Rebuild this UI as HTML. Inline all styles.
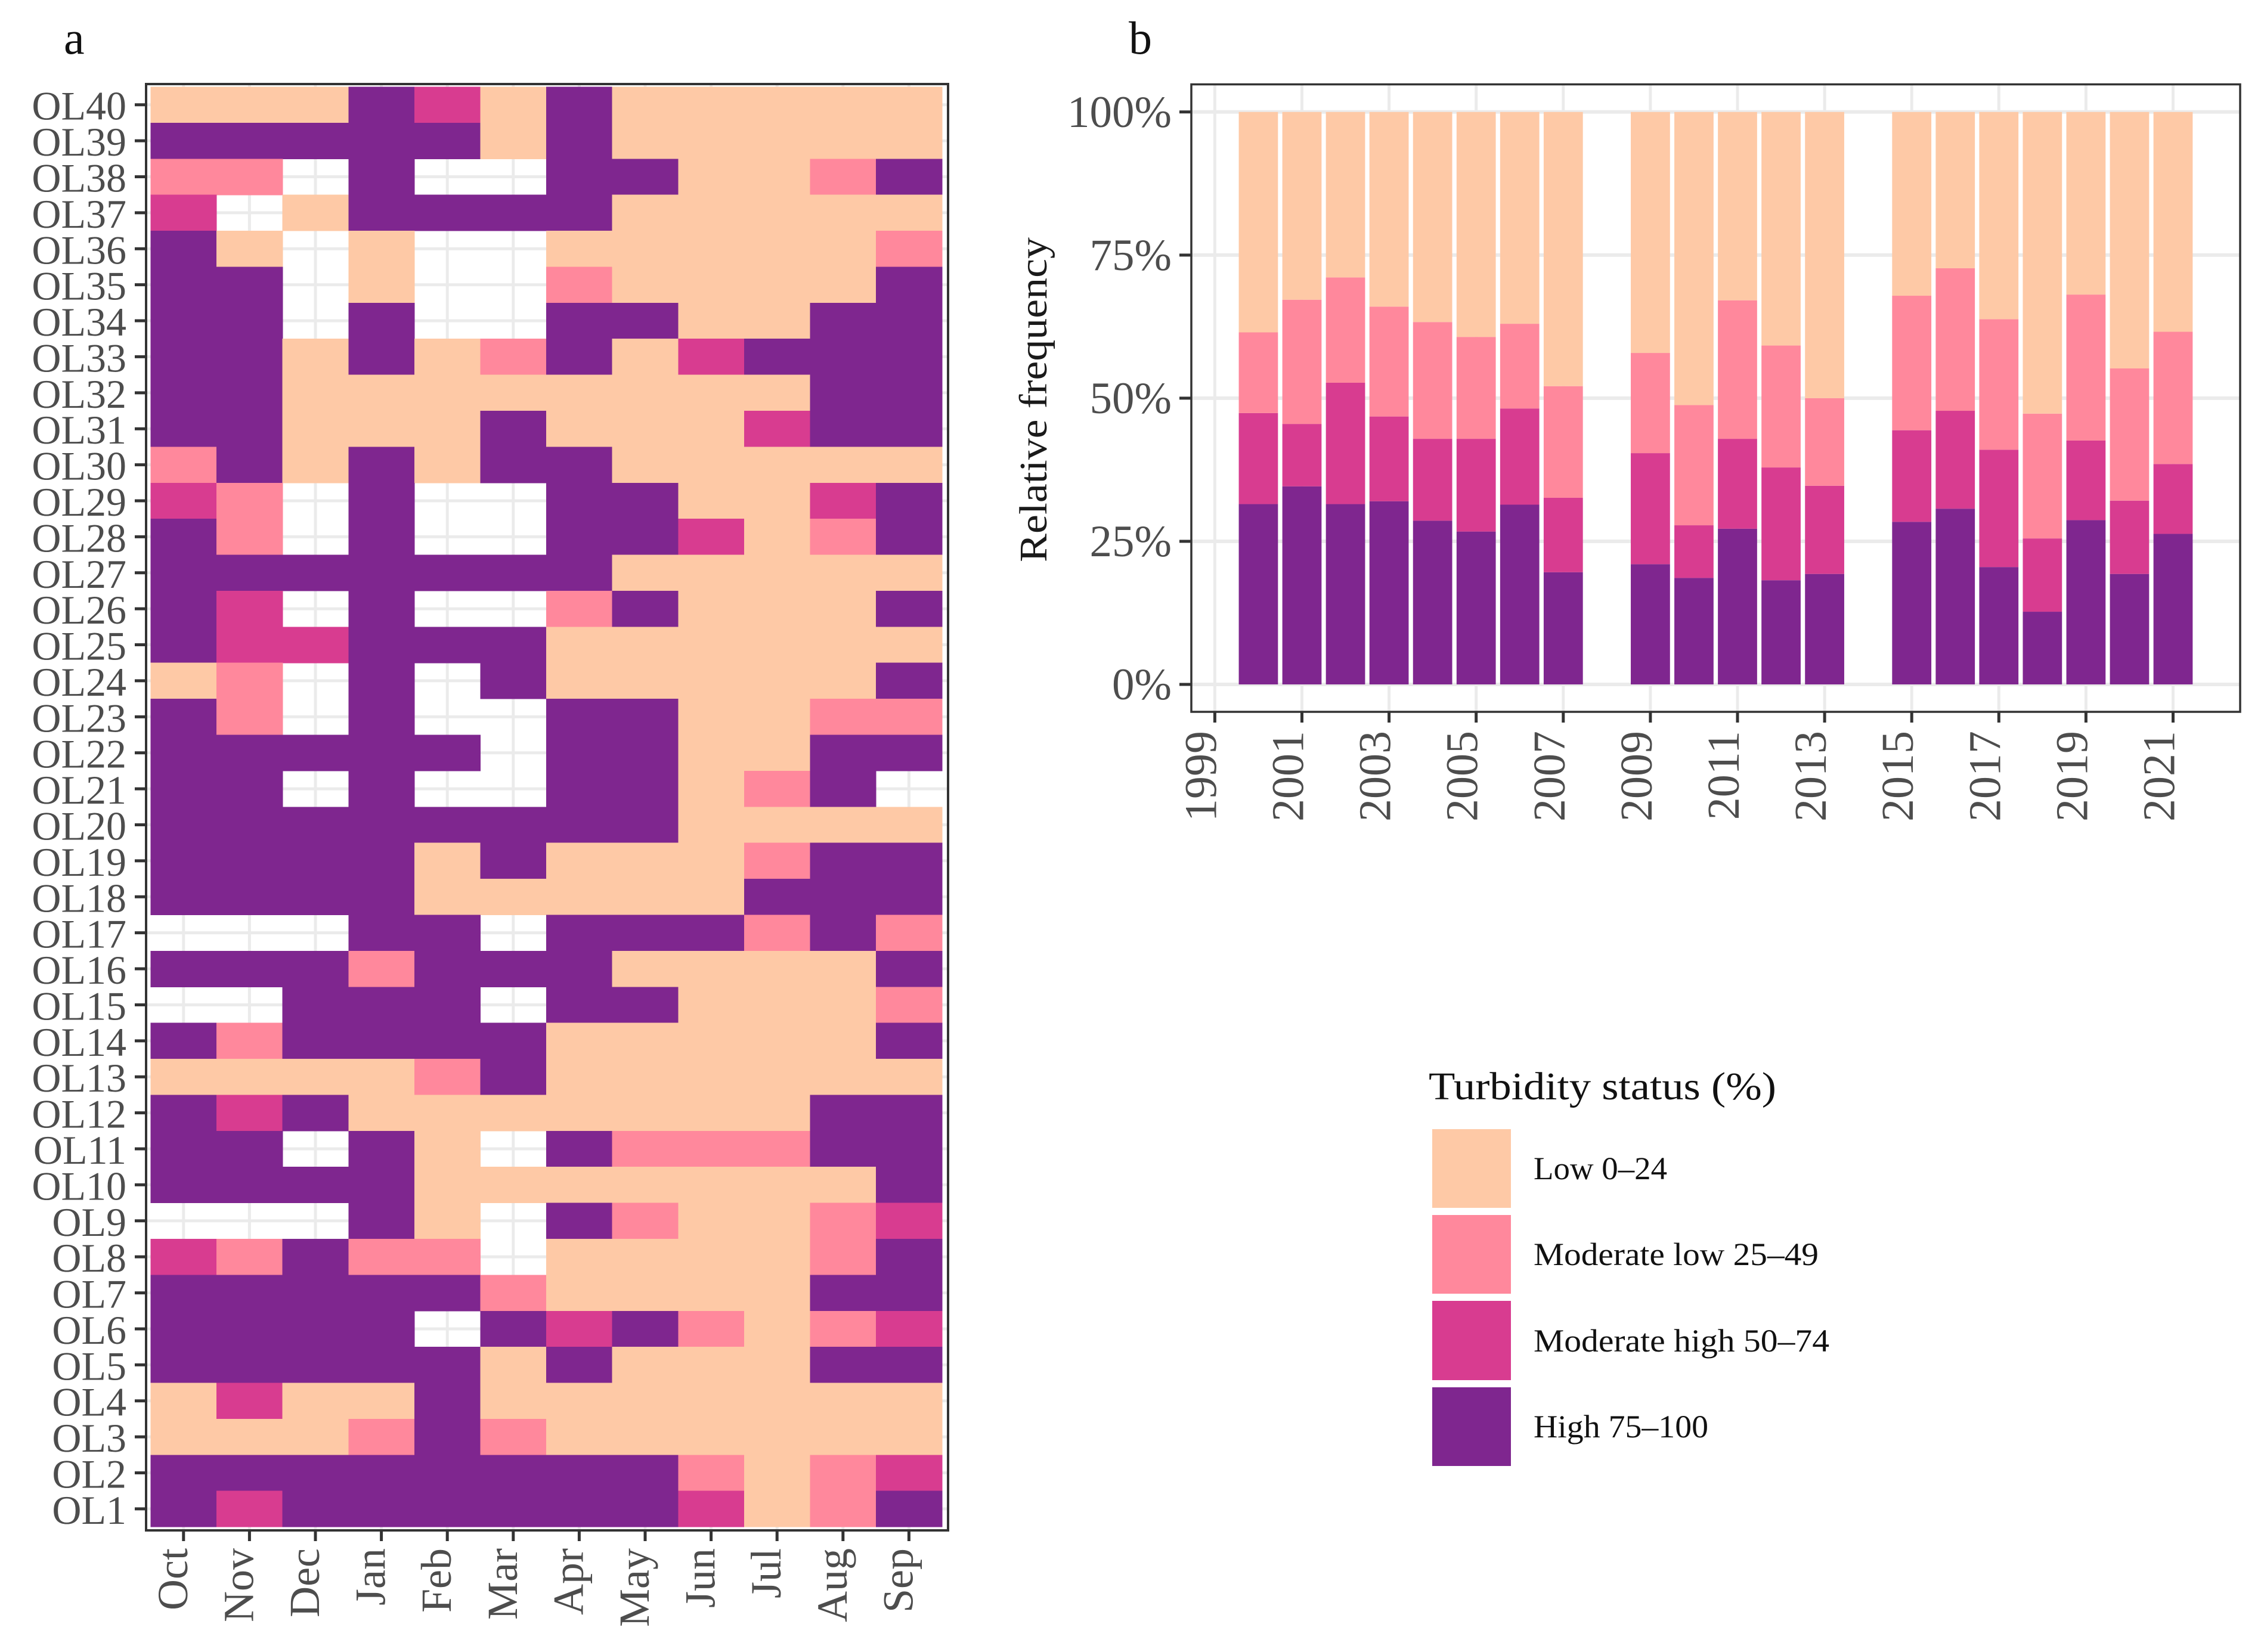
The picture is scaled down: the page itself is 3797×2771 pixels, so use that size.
<!DOCTYPE html>
<html lang="en">
<head>
<meta charset="utf-8">
<title>Turbidity status heatmap and relative frequency</title>
<style>
html,body{margin:0;padding:0;background:#fff;}
svg{display:block;}
text{font-family:"Liberation Serif",serif;}
</style>
</head>
<body>
<svg id="figure" xmlns="http://www.w3.org/2000/svg" width="3797" height="2771" viewBox="0 0 3797 2771">
  <rect x="0" y="0" width="3797" height="2771" fill="#ffffff"/>
  <text x="107" y="90" font-size="78" fill="#111">a</text>
  <text x="1893" y="90" font-size="78" fill="#111">b</text>
  <g id="panelA"></g>
  <g id="panelB"></g>
  <text transform="translate(1755,943) rotate(-90)" font-size="66" fill="#1a1a1a" textLength="545" lengthAdjust="spacingAndGlyphs">Relative frequency</text>
  <g>
    <text x="2396" y="1844" font-size="66" fill="#111" textLength="583" lengthAdjust="spacingAndGlyphs">Turbidity status (%)</text>
    <g>
      <rect x="2402" y="1894" width="132" height="132" fill="#FEC9A6"/>
      <text x="2572" y="1978" font-size="54" fill="#111" textLength="224" lengthAdjust="spacingAndGlyphs">Low 0–24</text>
    </g>
    <g>
      <rect x="2402" y="2038" width="132" height="132" fill="#FF889C"/>
      <text x="2572" y="2122" font-size="54" fill="#111" textLength="478" lengthAdjust="spacingAndGlyphs">Moderate low 25–49</text>
    </g>
    <g>
      <rect x="2402" y="2182" width="132" height="133" fill="#D83C90"/>
      <text x="2572" y="2267" font-size="54" fill="#111" textLength="496" lengthAdjust="spacingAndGlyphs">Moderate high 50–74</text>
    </g>
    <g>
      <rect x="2402" y="2327" width="132" height="132" fill="#7F268F"/>
      <text x="2572" y="2411" font-size="54" fill="#111" textLength="293" lengthAdjust="spacingAndGlyphs">High 75–100</text>
    </g>
  </g>
</svg>
<script>
// ---------- Heatmap data (0 low, 1 moderate low, 2 moderate high, 3 high, _ missing) ----------
const _ = null;
const months = ['Oct','Nov','Dec','Jan','Feb','Mar','Apr','May','Jun','Jul','Aug','Sep'];
const OL40 = [0,0,0,3,2,0,3,0,0,0,0,0];
const OL39 = [3,3,3,3,3,0,3,0,0,0,0,0];
const OL38 = [1,1,_,3,_,_,3,3,0,0,1,3];
const OL37 = [2,_,0,3,3,3,3,0,0,0,0,0];
const OL36 = [3,0,_,0,_,_,0,0,0,0,0,1];
const OL35 = [3,3,_,0,_,_,1,0,0,0,0,3];
const OL34 = [3,3,_,3,_,_,3,3,0,0,3,3];
const OL33 = [3,3,0,3,0,1,3,0,2,3,3,3];
const OL32 = [3,3,0,0,0,0,0,0,0,0,3,3];
const OL31 = [3,3,0,0,0,3,0,0,0,2,3,3];
const OL30 = [1,3,0,3,0,3,3,0,0,0,0,0];
const OL29 = [2,1,_,3,_,_,3,3,0,0,2,3];
const OL28 = [3,1,_,3,_,_,3,3,2,0,1,3];
const OL27 = [3,3,3,3,3,3,3,0,0,0,0,0];
const OL26 = [3,2,_,3,_,_,1,3,0,0,0,3];
const OL25 = [3,2,2,3,3,3,0,0,0,0,0,0];
const OL24 = [0,1,_,3,_,3,0,0,0,0,0,3];
const OL23 = [3,1,_,3,_,_,3,3,0,0,1,1];
const OL22 = [3,3,3,3,3,_,3,3,0,0,3,3];
const OL21 = [3,3,_,3,_,_,3,3,0,1,3,_];
const OL20 = [3,3,3,3,3,3,3,3,0,0,0,0];
const OL19 = [3,3,3,3,0,3,0,0,0,1,3,3];
const OL18 = [3,3,3,3,0,0,0,0,0,3,3,3];
const OL17 = [_,_,_,3,3,_,3,3,3,1,3,1];
const OL16 = [3,3,3,1,3,3,3,0,0,0,0,3];
const OL15 = [_,_,3,3,3,_,3,3,0,0,0,1];
const OL14 = [3,1,3,3,3,3,0,0,0,0,0,3];
const OL13 = [0,0,0,0,1,3,0,0,0,0,0,0];
const OL12 = [3,2,3,0,0,0,0,0,0,0,3,3];
const OL11 = [3,3,_,3,0,_,3,1,1,1,3,3];
const OL10 = [3,3,3,3,0,0,0,0,0,0,0,3];
const OL9  = [_,_,_,3,0,_,3,1,0,0,1,2];
const OL8  = [2,1,3,1,1,_,0,0,0,0,1,3];
const OL7  = [3,3,3,3,3,1,0,0,0,0,3,3];
const OL6  = [3,3,3,3,_,3,2,3,1,0,1,2];
const OL5  = [3,3,3,3,3,0,3,0,0,0,3,3];
const OL4  = [0,2,0,0,3,0,0,0,0,0,0,0];
const OL3  = [0,0,0,1,3,1,0,0,0,0,0,0];
const OL2  = [3,3,3,3,3,3,3,3,1,0,1,2];
const OL1  = [3,2,3,3,3,3,3,3,2,0,1,3];
const siteLabels = ['OL40','OL39','OL38','OL37','OL36','OL35','OL34','OL33','OL32','OL31','OL30','OL29','OL28','OL27','OL26','OL25','OL24','OL23','OL22','OL21','OL20','OL19','OL18','OL17','OL16','OL15','OL14','OL13','OL12','OL11','OL10','OL9','OL8','OL7','OL6','OL5','OL4','OL3','OL2','OL1'];
const siteRows = [OL40,OL39,OL38,OL37,OL36,OL35,OL34,OL33,OL32,OL31,OL30,OL29,OL28,OL27,OL26,OL25,OL24,OL23,OL22,OL21,OL20,OL19,OL18,OL17,OL16,OL15,OL14,OL13,OL12,OL11,OL10,OL9,OL8,OL7,OL6,OL5,OL4,OL3,OL2,OL1];

// ---------- Bar chart data (percent in each status, per year) ----------
const years        = [2000,2001,2002,2003,2004,2005,2006,2007,2009,2010,2011,2012,2013,2015,2016,2017,2018,2019,2020,2021];
const highPct      = [31.5,34.6,31.5,32.0,28.6,26.7,31.4,19.6,21.0,18.6,27.2,18.2,19.3,28.4,30.7,20.5,12.7,28.7,19.3,26.3];
const modHighPct   = [15.9,10.9,21.2,14.8,14.3,16.2,16.8,13.0,19.4,9.2,15.7,19.7,15.4,16.0,17.1,20.5,12.8,13.9,12.8,12.2];
const modLowPct    = [14.1,21.7,18.4,19.2,20.4,17.8,14.8,19.5,17.5,21.0,24.2,21.3,15.3,23.5,24.9,22.8,21.8,25.5,23.1,23.1];
const lowPct       = [38.5,32.8,28.9,34.0,36.7,39.3,37.0,47.9,42.1,51.2,32.9,40.8,50.0,32.1,27.3,36.2,52.7,31.9,44.8,38.4];
const yearTicks    = [1999,2001,2003,2005,2007,2009,2011,2013,2015,2017,2019,2021];
const percentTicks = [0,25,50,75,100];

const statusColors = ['#FEC9A6','#FF889C','#D83C90','#7F268F'];
const NS = 'http://www.w3.org/2000/svg';
function make(tag, attrs, parent) {
  const el = document.createElementNS(NS, tag);
  for (const k in attrs) el.setAttribute(k, attrs[k]);
  parent.appendChild(el);
  return el;
}
const GRID = '#ebebeb', AXIS = '#333333', LABEL = '#4d4d4d';

// ---------- Panel A ----------
(function () {
  const root = document.getElementById('panelA');
  const box = {l: 245, r: 1590, t: 141, b: 2567};
  const cx0 = 252.5, cw = 110.6, cy0 = 145.5, ch = 60.39;
  const xBand = i => cx0 + i * cw;
  const yBand = i => cy0 + i * ch;

  months.forEach((m, i) => {
    const x = xBand(i) + cw / 2;
    const el = make('line', {x1: x, x2: x, y1: box.t, y2: box.b, stroke: GRID, 'stroke-width': 5}, root);
    
    
  });
  siteLabels.forEach((s, j) => {
    const y = yBand(j) + ch / 2;
    const el = make('line', {x1: box.l, x2: box.r, y1: y, y2: y, stroke: GRID, 'stroke-width': 5}, root);
    
    
  });

  siteRows.forEach((row, j) => {
    row.forEach((v, i) => {
      if (v === null) return;
      const el = make('rect', {x: xBand(i), y: yBand(j), width: cw + 0.6, height: ch + 0.6, fill: statusColors[v], 'shape-rendering': 'crispEdges'}, root);
      
      
    });
  });

  const frame = make('rect', {x: box.l, y: box.t, width: box.r - box.l, height: box.b - box.t, fill: 'none', stroke: AXIS, 'stroke-width': 4}, root);
  
  

  siteLabels.forEach((s, j) => {
    const y = yBand(j) + ch / 2;
    const tick = make('line', {x1: 226, x2: box.l, y1: y, y2: y, stroke: AXIS, 'stroke-width': 5}, root);
    
    
    const t = make('text', {x: 212, y: y + 25, 'text-anchor': 'end', 'font-size': 68, fill: LABEL}, root);
    t.textContent = s;
    
    
  });

  months.forEach((m, i) => {
    const x = xBand(i) + cw / 2;
    const tick = make('line', {x1: x, x2: x, y1: box.b, y2: box.b + 18, stroke: AXIS, 'stroke-width': 5}, root);
    
    
    const t = make('text', {transform: 'translate(' + (x + 6) + ',2597) rotate(-90)', 'text-anchor': 'end', 'font-size': 72, fill: LABEL}, root);
    t.textContent = m;
    
    
  });
})();

// ---------- Panel B ----------
(function () {
  const root = document.getElementById('panelB');
  const box = {l: 1998, r: 3757, t: 141.5, b: 1194};
  const xYear = y => 2037.4 + (y - 1999) * 73.05;
  const yPct = p => 1148 - p * 9.602;
  const barW = 0.9 * 73.05;

  const minor = make('g', {}, root);
  
  
  yearTicks.forEach(v => {
    const el = make('line', {x1: xYear(v), x2: xYear(v), y1: box.t, y2: box.b, stroke: GRID, 'stroke-width': 5}, minor);
    
    
  });
  percentTicks.forEach(v => {
    const el = make('line', {x1: box.l, x2: box.r, y1: yPct(v), y2: yPct(v), stroke: GRID, 'stroke-width': 6}, minor);
    
    
  });

  years.forEach((yr, i) => {
    const parts = [highPct[i], modHighPct[i], modLowPct[i], lowPct[i]];
    const fills = [3, 2, 1, 0];
    const names = ['high', 'moderate-high', 'moderate-low', 'low'];
    let acc = 0;
    parts.forEach((p, k) => {
      const y1 = yPct(acc + p), y0 = yPct(acc);
      const el = make('rect', {x: xYear(yr) - barW / 2, y: y1, width: barW, height: y0 - y1, fill: statusColors[fills[k]]}, root);
      
      
      acc += p;
    });
  });

  const frame = make('rect', {x: box.l, y: box.t, width: box.r - box.l, height: box.b - box.t, fill: 'none', stroke: AXIS, 'stroke-width': 3.5}, root);
  
  

  percentTicks.forEach(v => {
    const tick = make('line', {x1: 1978, x2: box.l, y1: yPct(v), y2: yPct(v), stroke: AXIS, 'stroke-width': 5}, root);
    
    
    const t = make('text', {x: 1965, y: yPct(v) + 25, 'text-anchor': 'end', 'font-size': 75, fill: LABEL}, root);
    t.textContent = v + '%';
    
    
  });
  yearTicks.forEach(v => {
    const x = xYear(v);
    const tick = make('line', {x1: x, x2: x, y1: box.b, y2: box.b + 18, stroke: AXIS, 'stroke-width': 5}, root);
    
    
    const t = make('text', {transform: 'translate(' + (x + 2) + ',1226) rotate(-90)', 'text-anchor': 'end', 'font-size': 76, fill: LABEL}, root);
    t.textContent = String(v);
    
    
  });
})();
</script>
</body>
</html>
